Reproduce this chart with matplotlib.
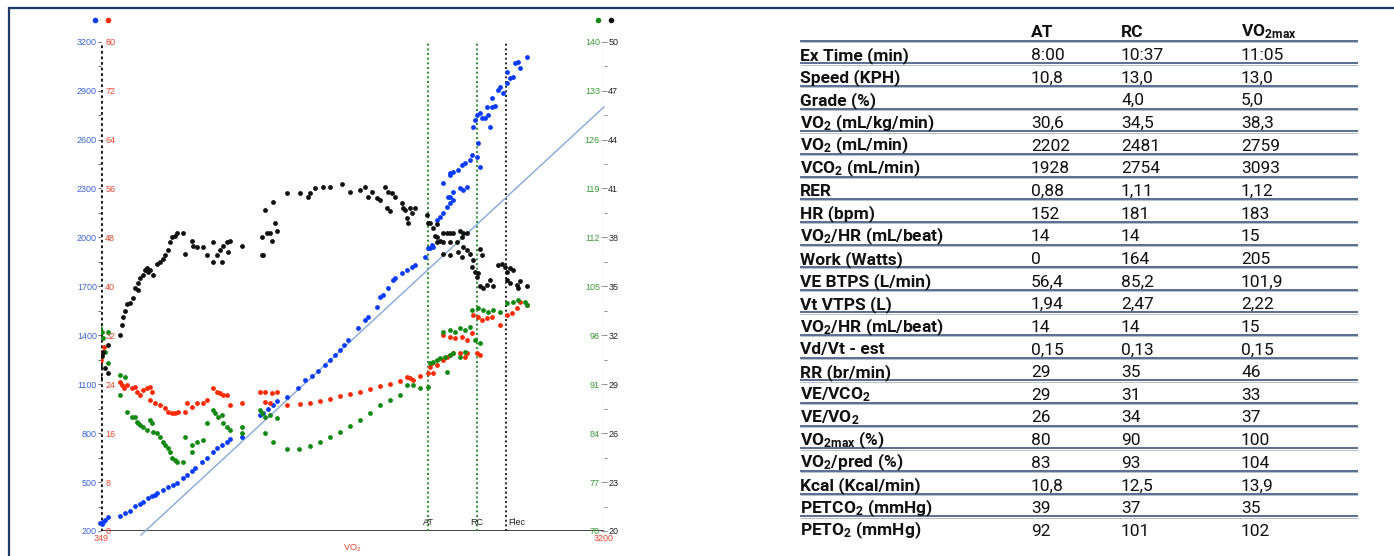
import matplotlib
matplotlib.use('Agg')
import matplotlib.pyplot as plt
from matplotlib import font_manager

# ---- V-slope scatter data (x = VO2 mL/min) ----
blue_vo2 = [345, 352, 360, 370, 390, 457, 485, 513, 542, 570,
            587, 615, 638, 655, 666, 700, 729, 757, 780, 814,
            836, 865, 882, 921, 950, 984, 1006, 1035, 1063, 1080,
            1148, 1250, 1267, 1296, 1324, 1347, 1403, 1466, 1505, 1545,
            1580, 1620, 1647, 1675, 1704, 1726, 1749, 1806, 1845, 1862,
            1913, 1930, 1947, 1976, 2004, 2015, 2055, 2083, 2112, 2129,
            2185, 2202, 2214, 2225, 2231, 2253, 2270, 2287, 2310, 2327,
            2344, 2316, 2287, 2327, 2327, 2344, 2384, 2401, 2423, 2395,
            2412, 2440, 2452, 2480, 2497, 2486, 2327, 2344, 2372, 2457,
            2469, 2480, 2497, 2508, 2525, 2542, 2554, 2537, 2565, 2582,
            2565, 2599, 2610, 2627, 2650, 2667, 2684, 2650, 2695, 2712,
            2724, 2764]
blue_vco2 = [250, 240, 255, 265, 285, 292, 310, 323, 353, 365,
             378, 402, 415, 421, 433, 451, 470, 482, 494, 525,
             543, 568, 586, 623, 647, 684, 709, 727, 745, 764,
             776, 911, 923, 948, 972, 997, 1021, 1076, 1125, 1150,
             1180, 1220, 1250, 1280, 1310, 1340, 1371, 1444, 1493, 1512,
             1573, 1634, 1646, 1689, 1738, 1751, 1781, 1800, 1818, 1830,
             1879, 1934, 1934, 1953, 1941, 2106, 2124, 2149, 2186, 2210,
             2229, 2247, 2333, 2382, 2247, 2278, 2302, 2290, 2308, 2443,
             2455, 2474, 2504, 2492, 2431, 2578, 2394, 2400, 2413, 2676,
             2719, 2750, 2762, 2731, 2731, 2750, 2676, 2799, 2799, 2805,
             2854, 2903, 2921, 2884, 2946, 2976, 2983, 3013, 3068, 3074,
             3038, 3105]

red_vo2 = [343, 350, 355, 366, 457, 468, 479, 496, 525, 542,
           553, 570, 587, 610, 627, 638, 627, 655, 683, 712,
           729, 751, 768, 785, 825, 836, 865, 893, 927, 950,
           984, 1006, 1023, 1040, 1063, 1080, 1148, 1250, 1279, 1318,
           1347, 1279, 1307, 1403, 1477, 1534, 1590, 1647, 1704, 1760,
           1817, 1873, 1930, 1987, 2044, 2083, 2100, 2117, 2157, 2202,
           2214, 2231, 2225, 2253, 2287, 2310, 2327, 2344, 2384, 2412,
           2423, 2287, 2327, 2355, 2395, 2423, 2452, 2480, 2497, 2457,
           2486, 2508, 2537, 2565, 2610, 2650, 2678, 2707, 2724, 2764]
red_val = [29.2, 28.0, 28.9, 30.1, 24.3, 23.9, 23.4, 23.9, 23.4, 23.5,
           22.7, 22.2, 23.0, 23.4, 23.5, 22.7, 21.4, 20.9, 20.6, 20.1,
           19.4, 19.3, 19.3, 19.4, 19.4, 20.9, 20.3, 20.9, 20.9, 21.4,
           23.4, 22.7, 22.5, 22.2, 22.2, 20.6, 20.9, 22.7, 22.7, 22.5,
           22.7, 21.1, 20.9, 20.6, 20.8, 20.9, 21.2, 21.6, 22.1, 22.4,
           22.7, 23.2, 23.7, 24.0, 24.5, 25.2, 25.0, 24.7, 25.3, 25.8,
           26.8, 25.8, 27.5, 27.1, 27.9, 28.4, 28.8, 29.1, 29.1, 28.4,
           29.1, 32.0, 31.7, 31.5, 31.7, 31.2, 32.4, 29.1, 28.8, 35.3,
           35.0, 34.5, 34.8, 35.0, 33.7, 35.3, 35.6, 36.4, 37.4, 36.9]

green_vo2 = [343, 355, 360, 389, 372, 389, 457, 485, 457, 496,
             525, 542, 553, 559, 570, 587, 610, 627, 638, 644,
             666, 683, 700, 712, 729, 740, 751, 768, 780, 814,
             825, 865, 865, 893, 927, 950, 984, 995, 1012, 1035,
             1040, 1063, 1080, 1148, 1148, 1250, 1262, 1279, 1307, 1347,
             1279, 1324, 1403, 1471, 1534, 1590, 1647, 1704, 1760, 1817,
             1873, 1930, 1987, 2044, 2083, 2117, 2157, 2202, 2214, 2231,
             2253, 2270, 2299, 2327, 2344, 2384, 2412, 2310, 2287, 2327,
             2355, 2384, 2412, 2440, 2469, 2497, 2452, 2486, 2514, 2542,
             2571, 2610, 2650, 2684, 2712, 2752, 2764]
green_val = [99.0, 98.5, 97.6, 98.5, 95.6, 94.0, 92.3, 92.0, 89.4, 87.0,
             86.3, 86.3, 85.6, 85.4, 85.2, 84.9, 84.4, 85.9, 85.4, 84.2,
             84.0, 83.4, 82.7, 82.3, 81.9, 81.3, 80.4, 80.2, 79.9, 79.9,
             83.4, 82.3, 81.3, 82.7, 83.0, 85.4, 87.3, 86.9, 86.3, 86.6,
             85.4, 84.9, 84.4, 84.9, 84.0, 87.3, 86.9, 86.3, 86.6, 86.2,
             84.0, 82.7, 81.7, 81.7, 82.2, 82.7, 83.4, 84.2, 85.0, 85.9,
             86.9, 88.0, 88.7, 89.4, 90.9, 90.9, 90.4, 90.6, 94.0, 94.2,
             94.5, 94.7, 94.9, 95.2, 95.5, 94.9, 95.6, 92.7, 98.5, 98.7,
             98.5, 99.0, 98.7, 99.2, 97.3, 96.9, 101.6, 101.9, 101.6, 101.3,
             101.6, 101.3, 102.6, 102.7, 103.0, 102.7, 102.3]

black_vo2 = [343, 355, 360, 389, 372, 389, 343, 457, 468, 474,
             485, 496, 513, 530, 542, 559, 559, 570, 587, 598,
             610, 615, 627, 644, 666, 683, 700, 712, 729, 740,
             751, 768, 780, 814, 825, 865, 870, 893, 927, 950,
             984, 984, 1006, 1023, 1035, 1040, 1063, 1069, 1080, 1148,
             1262, 1267, 1262, 1290, 1307, 1318, 1347, 1335, 1279, 1324,
             1403, 1477, 1522, 1534, 1562, 1607, 1647, 1715, 1760, 1817,
             1845, 1862, 1885, 1913, 1930, 1959, 1976, 1998, 2015, 1970,
             1987, 2055, 2072, 2100, 2129, 2089, 2112, 2061, 2083, 2197,
             2214, 2231, 2242, 2253, 2270, 2287, 2310, 2202, 2253, 2327,
             2344, 2384, 2401, 2423, 2253, 2287, 2327, 2367, 2395, 2287,
             2327, 2372, 2395, 2401, 2423, 2440, 2457, 2452, 2469, 2486,
             2480, 2497, 2508, 2497, 2514, 2537, 2554, 2571, 2599, 2622,
             2639, 2650, 2667, 2684, 2650, 2667, 2707, 2724, 2764, 2712]
black_val = [30.1, 30.7, 31.0, 31.4, 30.0, 29.7, 29.4, 32.0, 32.6, 33.1,
             33.5, 33.9, 34.0, 34.3, 34.9, 34.8, 35.2, 35.5, 35.7, 36.0,
             36.1, 35.9, 36.0, 35.7, 36.4, 36.5, 36.7, 36.9, 37.2, 37.7,
             38.0, 38.1, 38.3, 38.3, 37.0, 37.8, 37.5, 37.4, 37.4, 36.9,
             37.7, 36.5, 36.9, 37.2, 36.5, 37.5, 37.7, 37.1, 37.8, 37.5,
             36.9, 36.9, 38.0, 38.3, 38.3, 37.8, 38.4, 38.9, 39.7, 40.2,
             40.7, 40.7, 40.5, 40.7, 41.0, 41.1, 41.1, 41.3, 40.8, 40.9,
             41.1, 40.5, 40.8, 40.4, 40.3, 41.1, 40.8, 40.7, 40.5, 39.8,
             39.6, 40.1, 39.7, 39.8, 39.8, 38.9, 39.5, 39.8, 39.2, 39.4,
             38.9, 38.6, 38.1, 38.0, 37.8, 38.3, 38.3, 38.9, 38.8, 38.3,
             38.3, 38.4, 38.3, 38.3, 37.7, 37.7, 37.7, 37.7, 38.0, 37.0,
             36.9, 37.1, 36.8, 37.4, 37.2, 37.0, 36.6, 36.2, 35.9, 35.8,
             35.6, 37.3, 36.9, 35.0, 34.9, 35.1, 35.4, 35.0, 36.3, 36.4,
             36.2, 35.9, 36.1, 36.0, 35.4, 35.2, 35.1, 35.3, 35.0, 34.9]

# threshold markers (VO2 mL/min)
marker_names = ['AT', 'RC', 'Flec']
marker_vo2 = [2202, 2481, 2645]
marker_colors = ['#2e8b2e', '#2e8b2e', '#222222']

# unit line VCO2 = VO2 - 400
ref_vo2 = [575, 3200]
ref_offset = 400

# axis ticks
x_ticks = [349, 3200]
blue_ticks = list(range(200, 3201, 300))
red_ticks = list(range(0, 81, 8))
green_ticks = list(range(70, 141, 7))
black_ticks = list(range(20, 51, 3))

# ---- summary table ----
col_heads = ['AT', 'RC', 'VO$_{2max}$']
row_labels = ['Ex Time (min)', 'Speed (KPH)', 'Grade (%)', 'VO$_2$ (mL/kg/min)',
              'VO$_2$ (mL/min)', 'VCO$_2$ (mL/min)', 'RER', 'HR (bpm)',
              'VO$_2$/HR (mL/beat)', 'Work (Watts)', 'VE BTPS (L/min)', 'Vt VTPS (L)',
              'VO$_2$/HR (mL/beat)', 'Vd/Vt - est', 'RR (br/min)', 'VE/VCO$_2$',
              'VE/VO$_2$', 'VO$_{2max}$ (%)', 'VO$_2$/pred (%)', 'Kcal (Kcal/min)',
              'PETCO$_2$ (mmHg)', 'PETO$_2$ (mmHg)']
at_vals = ['8:00', '10,8', '', '30,6', '2202', '1928', '0,88', '152', '14', '0',
           '56,4', '1,94', '14', '0,15', '29', '29', '26', '80', '83', '10,8', '39', '92']
rc_vals = ['10:37', '13,0', '4,0', '34,5', '2481', '2754', '1,11', '181', '14', '164',
           '85,2', '2,47', '14', '0,13', '35', '31', '34', '90', '93', '12,5', '37', '101']
max_vals = ['11:05', '13,0', '5,0', '38,3', '2759', '3093', '1,12', '183', '15', '205',
            '101,9', '2,22', '15', '0,15', '46', '33', '37', '100', '104', '13,9', '35', '102']

installed = {f.name for f in font_manager.fontManager.ttflist}
table_font = 'Liberation Sans Narrow' if 'Liberation Sans Narrow' in installed else 'Roboto'
plt.rcParams['font.family'] = ['Liberation Sans', 'DejaVu Sans']
plt.rcParams['mathtext.default'] = 'regular'

W, H = 1394, 556
fig = plt.figure(figsize=(W / 100, H / 100), dpi=100)
fig.patch.set_facecolor('white')

# table drawn in pixel units over the whole figure
tab = fig.add_axes([0, 0, 1, 1])
tab.set_xlim(0, W)
tab.set_ylim(H, 0)
tab.axis('off')
tab.patch.set_alpha(0)

navy = '#1f3a64'
tab.plot([8, W], [7.5, 7.5], color=navy, lw=1.6, solid_capstyle='butt')
tab.plot([8.5, 8.5], [7, H], color=navy, lw=1.6, solid_capstyle='butt')

x_lab, x_cols = 800, [1031, 1121, 1241]
first_line, step = 40.7, 22.65
for j, head in enumerate(col_heads):
    tab.text(x_cols[j], first_line - 4, head, fontfamily=table_font, fontweight='bold',
             fontsize=12.5, va='baseline', ha='left', color='#111111')
for i, lab in enumerate(row_labels):
    base = first_line + step * i + 19.3
    tab.text(x_lab, base, lab, fontfamily=table_font, fontweight='bold', fontsize=12.5,
             va='baseline', ha='left', color='#111111')
    for j, v in enumerate([at_vals[i], rc_vals[i], max_vals[i]]):
        tab.text(x_cols[j], base, v, fontfamily=table_font, fontsize=12.5,
                 va='baseline', ha='left', color='#111111')
for k in range(len(row_labels)):
    y = first_line + step * k
    tab.plot([800, 1358], [y, y], color='#2d4670', lw=1.1, solid_capstyle='butt')
    tab.plot([800, 1358], [y + 1.2, y + 1.2], color='#aab4c6', lw=0.6, solid_capstyle='butt')

# ---- chart ----
ax = fig.add_axes([101 / W, 1 - 531 / H, 503 / W, 489.3 / H])
ax.set_xlim(349, 3200)
ax.set_ylim(200, 3200)
ax_red = ax.twinx()
ax_red.set_ylim(0, 80)
ax_green = ax.twinx()
ax_green.set_ylim(70, 140)
ax_black = ax.twinx()
ax_black.set_ylim(20, 50)
for a in (ax, ax_red, ax_green, ax_black):
    for s in a.spines.values():
        s.set_visible(False)
    a.patch.set_alpha(0)

blue_c, red_c, green_c, black_c = '#0a3cff', '#ff2a00', '#138a13', '#111111'
blue_t, red_t, green_t = '#3d63d8', '#e8452f', '#3a9a3a'
fs = 6.5

# axis lines
ax.axvline(349, color='#111111', lw=2, ls=(0, (1, 1)), zorder=1)
ax.axhline(200, color='#222222', lw=1.2, zorder=1)
ax.axvline(3200, color='#999999', lw=0.8, zorder=1)

for name, v, c in zip(marker_names, marker_vo2, marker_colors):
    ax.axvline(v, color=c, lw=1.4, ls=(0, (1, 1.4)), zorder=1)
    if name == 'Flec':
        ax.text(v + 15, 250, name, fontsize=fs, ha='left', va='center', color='#222222')
    else:
        ax.text(v, 250, name, fontsize=fs, ha='center', va='center', color='#222222')

ax.plot(ref_vo2, [v - ref_offset for v in ref_vo2], color='#86a9da', lw=1, clip_on=False, zorder=2)

ax.scatter(blue_vo2, blue_vco2, s=12, color=blue_c, linewidths=0, zorder=3, clip_on=False)
ax_red.scatter(red_vo2, red_val, s=12, color=red_c, linewidths=0, zorder=3)
ax_green.scatter(green_vo2, green_val, s=12, color=green_c, linewidths=0, zorder=3)
ax_black.scatter(black_vo2, black_val, s=12, color=black_c, linewidths=0, zorder=3)

# x axis
ax.set_xticks(x_ticks)
ax.set_xticklabels([str(t) for t in x_ticks])
ax.tick_params(axis='x', length=0, pad=2, labelsize=fs, labelcolor=red_t)
ax.set_xlabel('VO$_2$', fontsize=fs, color=red_t, labelpad=0)

# left: blue outside, red inside
ax.set_yticks(blue_ticks)
ax.set_yticks([t + 150 for t in blue_ticks[:-1]], minor=True)
ax.tick_params(axis='y', which='both', direction='out', length=2, width=0.6, color='#555555',
               pad=1, labelsize=fs, labelcolor=blue_t)
ax_red.yaxis.tick_left()
ax_red.set_yticks(red_ticks)
ax_red.tick_params(axis='y', direction='in', length=0, pad=-3, labelsize=fs, labelcolor=red_t)
for t in ax_red.get_yticklabels():
    t.set_ha('left')

# right: green inside, black outside
ax_green.yaxis.tick_right()
ax_green.set_yticks(green_ticks)
ax_green.set_yticks([t + 3.5 for t in green_ticks[:-1]], minor=True)
ax_green.tick_params(axis='y', which='both', direction='in', length=2, width=0.6,
                     color='#888888', pad=-3, labelsize=fs, labelcolor=green_t)
ax_green.tick_params(axis='y', which='minor', length=0)
for t in ax_green.get_yticklabels():
    t.set_ha('right')
ax_black.yaxis.tick_right()
ax_black.set_yticks(black_ticks)
ax_black.set_yticks([t + 1.5 for t in black_ticks[:-1]], minor=True)
ax_black.tick_params(axis='y', which='both', direction='out', length=2, width=0.6,
                     color='#777777', pad=1, labelsize=fs, labelcolor='#222222')

# colour keys above each axis pair
for xf, c in [(-0.012, blue_c), (0.014, red_c), (0.988, green_c), (1.014, black_c)]:
    ax.plot([xf], [1.044], 'o', ms=3, color=c, transform=ax.transAxes, clip_on=False)

fig.savefig('out.png', dpi=100)
